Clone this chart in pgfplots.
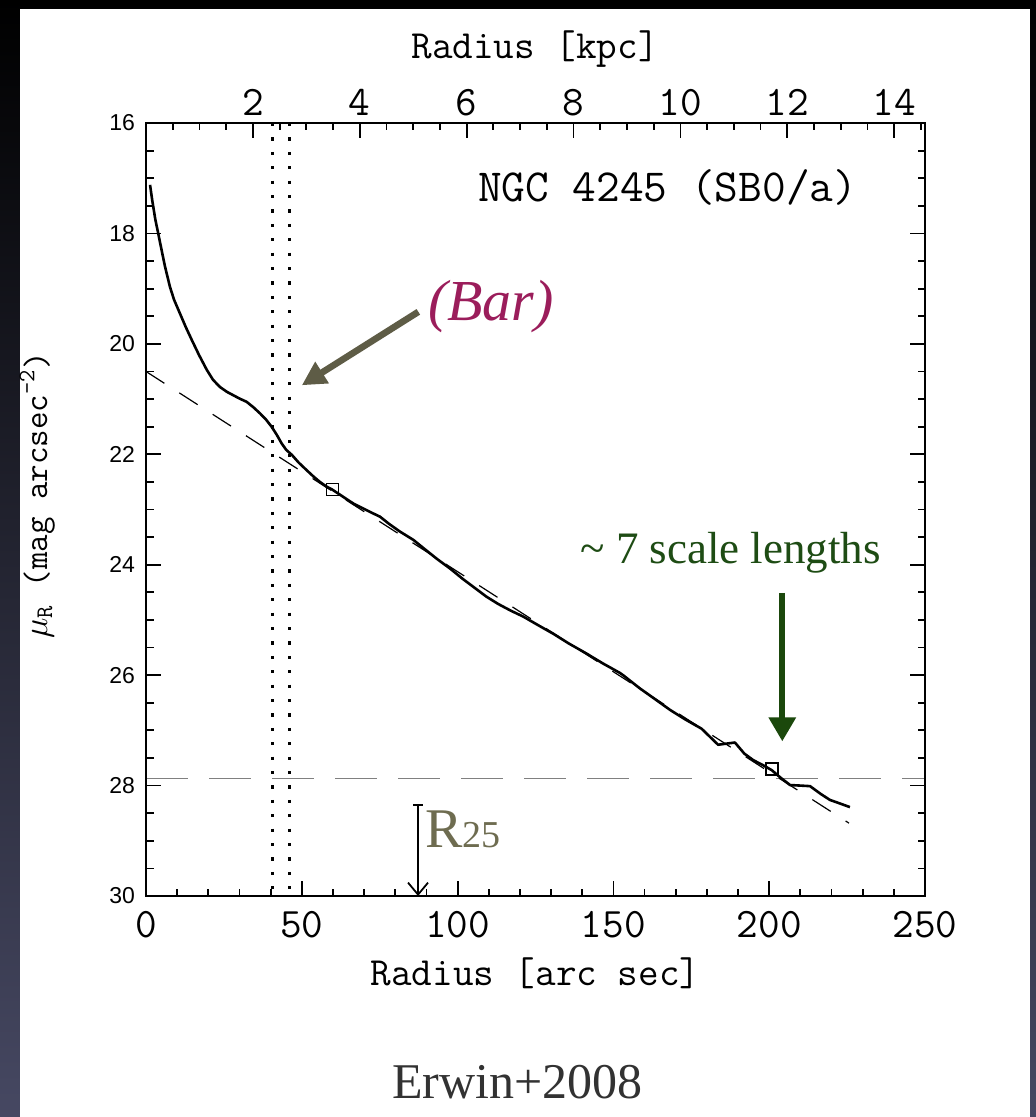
\documentclass[border=0pt]{standalone}
\usepackage{fontspec}
\setmainfont{Liberation Serif}
\setsansfont{Liberation Sans}
\usepackage{pgfplots}
\pgfplotsset{compat=1.18}
\usetikzlibrary{arrows.meta}
\definecolor{barcol}{RGB}{155,29,91}
\definecolor{olivearrow}{RGB}{94,92,70}
\definecolor{greentext}{RGB}{30,76,20}
\definecolor{greenarrow}{RGB}{27,72,12}
\definecolor{rtwofive}{RGB}{110,108,80}
\definecolor{bgbot}{RGB}{70,72,98}
\definecolor{captioncol}{RGB}{50,50,50}
\newcommand{\idl}[1]{\fontsize{#1}{#1}\selectfont\ttfamily}

\pgfplotstableread{
x mu
1.3 17.12
2.0 17.40
3.0 17.75
4.0 18.02
5.0 18.30
6.1 18.60
7.7 18.97
9.0 19.20
10.9 19.45
12.8 19.70
14.7 19.93
17.0 20.20
19.5 20.47
21.5 20.65
23.7 20.78
26.0 20.87
28.0 20.93
30.0 20.99
32.3 21.05
34.5 21.15
36.6 21.26
38.5 21.37
40.3 21.50
42.0 21.65
43.5 21.80
45.0 21.92
46.8 22.01
49.0 22.15
51.6 22.29
53.7 22.40
55.8 22.50
57.8 22.58
59.8 22.64
63.0 22.76
66.5 22.89
70.0 22.99
72.5 23.06
75.1 23.13
78.0 23.26
81.5 23.40
85.8 23.55
89.5 23.72
93.5 23.90
97.6 24.07
101.5 24.25
105.5 24.42
109.3 24.58
113.0 24.71
117.0 24.83
121.1 24.94
126.0 25.10
130.7 25.25
135.5 25.42
141.4 25.61
146.7 25.79
152.1 25.96
153.1 26.00
158.5 26.24
163.0 26.42
168.2 26.63
173.0 26.80
178.3 26.97
183.6 27.26
189.0 27.22
192.0 27.42
194.9 27.54
198.0 27.63
200.8 27.72
203.5 27.85
206.7 27.99
210.0 28.00
213.1 28.01
216.5 28.15
219.5 28.26
222.5 28.32
225.9 28.39
}\profile

\begin{document}
\begin{tikzpicture}
\shade[top color=black, bottom color=bgbot] (0pt,0pt) rectangle (518pt,-558.5pt);
\fill[white] (10pt,-4.5pt) rectangle (515pt,-558.5pt);

\begin{axis}[
  scale only axis, width=389.5pt, height=386.5pt,
  at={(73pt,-448pt)}, anchor=south west,
  xmin=0, xmax=250, ymin=16, ymax=30, y dir=reverse,
  xtick={0,50,...,250}, xticklabels={0,50,100,150,200,250},
  minor x tick num=4,
  ytick={16,18,...,30}, yticklabels={16,18,20,22,24,26,28,30},
  minor y tick num=3,
  xtick pos=lower, ytick pos=both,
  tick align=inside,
  major tick length=7.5pt, minor tick length=3.75pt,
  axis line style={line width=1.1pt},
  every tick/.style={black, line width=0.9pt},
  xticklabel style={font=\idl{21pt}, yshift=-4pt},
  yticklabel style={font=\fontsize{11.5pt}{11.5pt}\selectfont\sffamily, xshift=-2pt},
  clip=false,
]
% horizontal limiting-surface-brightness line
\addplot[gray, line width=0.8pt, dash pattern=on 21pt off 10.5pt] coordinates {(0,27.87) (250,27.87)};
% bar region
\addplot[black, line width=1.5pt, dash pattern=on 1.6pt off 5.6pt] coordinates {(40.5,16) (40.5,30)};
\addplot[black, line width=1.5pt, dash pattern=on 1.6pt off 5.6pt] coordinates {(46.2,16) (46.2,30)};
% exponential fit
\addplot[black, line width=0.6pt, dash pattern=on 10.9pt off 8.9pt] coordinates {(0,20.5) (225.6,28.68)};
% profile
\addplot[black, line width=1.3pt, line join=round] table[x=x, y=mu] {\profile};
% fit range markers
\addplot[only marks, mark=square, mark size=3pt, mark options={draw=black, line width=0.8pt}] coordinates {(59.8,22.64) (200.8,27.70)};

% annotations
\node[anchor=base, font=\idl{23pt}] at (axis cs:167.4,17.43) {NGC 4245 (SB0/a)};
\node[anchor=base, font=\fontsize{29pt}{29pt}\selectfont\itshape, text=barcol] at (axis cs:110.7,19.57) {(Bar)};
\draw[olivearrow, line width=3.3pt, -{Triangle[length=12pt,width=12pt]}] (axis cs:87.4,19.42) -- (axis cs:50.0,20.75);
\node[anchor=base west, inner sep=0pt, font=\fontsize{22.5pt}{22.5pt}\selectfont, text=greentext] at (axis cs:139.3,23.98) {\textasciitilde\ 7 scale lengths};
\draw[greenarrow, line width=3pt, -{Triangle[length=12pt,width=13pt]}] (axis cs:204.2,24.51) -- (axis cs:204.2,27.20);
\draw[black, line width=0.9pt, {Bar[width=5pt]}-{Straight Barb[length=6pt,width=10pt]}] (axis cs:87.3,28.34) -- (axis cs:87.3,30);
\node[anchor=base west, inner sep=0pt, text=rtwofive, font=\fontsize{28pt}{28pt}\selectfont] at (axis cs:89.5,29.12) {R{\fontsize{19pt}{19pt}\selectfont 25}};
\end{axis}

\begin{axis}[
  scale only axis, width=389.5pt, height=386.5pt,
  at={(73pt,-448pt)}, anchor=south west,
  xmin=0, xmax=14.577, ymin=0, ymax=1,
  xtick={0,2,...,14}, xticklabels={,2,4,6,8,10,12,14},
  minor xtick={0.5,1,...,14.5},
  xtick pos=upper, xticklabel pos=upper,
  ytick=\empty,
  tick align=inside,
  major tick length=7.5pt, minor tick length=3.75pt,
  axis line style={line width=1.1pt},
  every tick/.style={black, line width=0.9pt},
  xticklabel style={font=\idl{21pt}},
]
\end{axis}

\node[anchor=base, font=\idl{20pt}] at (267.75pt,-492.5pt) {Radius [arc sec]};
\node[anchor=base, font=\idl{20pt}] at (267.5pt,-29.5pt) {Radius [kpc]};
\node[anchor=base, rotate=90, font=\idl{17pt}] at (23.5pt,-247.5pt) {$\mu$\textsubscript{R} (mag arcsec\textsuperscript{-2})};
\node[anchor=base, font=\fontsize{25pt}{25pt}\selectfont, text=captioncol] at (258.75pt,-549pt) {Erwin+2008};
\end{tikzpicture}
\end{document}
